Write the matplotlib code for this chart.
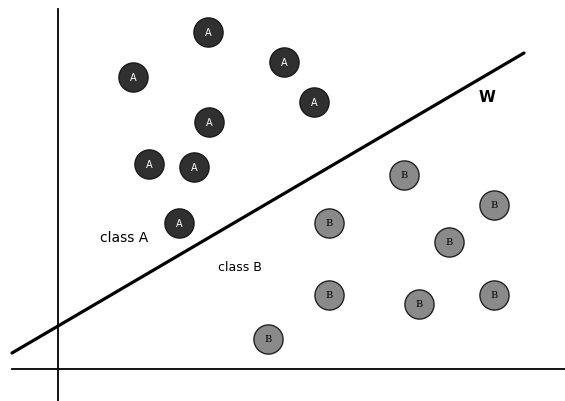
import matplotlib
matplotlib.use("Agg")
import matplotlib.pyplot as plt
import numpy as np

# point positions (pixel units, y down)
a_x = [208, 133, 284, 314, 209, 149, 194, 179]
a_y = [33, 78, 63, 103, 123, 165, 168, 224]
b_x = [404, 494, 329, 449, 329, 419, 494, 268]
b_y = [176, 206, 224, 243, 296, 305, 296, 340]

# separating line w
w_x = [12, 524]
w_y = [354, 54]

fig = plt.figure(figsize=(5.65, 4.02), dpi=100)
ax = fig.add_axes([0, 0, 1, 1])
ax.set_xlim(0, 565)
ax.set_ylim(402, 0)
ax.axis("off")

# axes lines
ax.plot([12, 565], [370, 370], color="black", lw=1.3)
ax.plot([58, 58], [10, 402], color="black", lw=1.3)

ax.plot(w_x, w_y, color="black", lw=2.3, solid_capstyle="round")

ax.plot(a_x, a_y, "o", ms=21, color="#303030", mec="#1a1a1a", mew=1, ls="none")
ax.plot(b_x, b_y, "o", ms=21, color="#8a8a8a", mec="#222222", mew=1, ls="none")
for x, y in zip(a_x, a_y):
    ax.text(x, y, "A", color="white", fontsize=7, ha="center", va="center")
for x, y in zip(b_x, b_y):
    ax.text(x, y, "B", color="black", fontsize=7, ha="center", va="center",
            family="DejaVu Serif")

ax.text(100, 238, "class A", fontsize=10, ha="left", va="center")
ax.text(218, 268, "class B", fontsize=9, ha="left", va="center")
ax.text(487, 97, "W", fontsize=11, fontweight="bold", ha="center", va="center")

fig.savefig("out.png", dpi=100)
